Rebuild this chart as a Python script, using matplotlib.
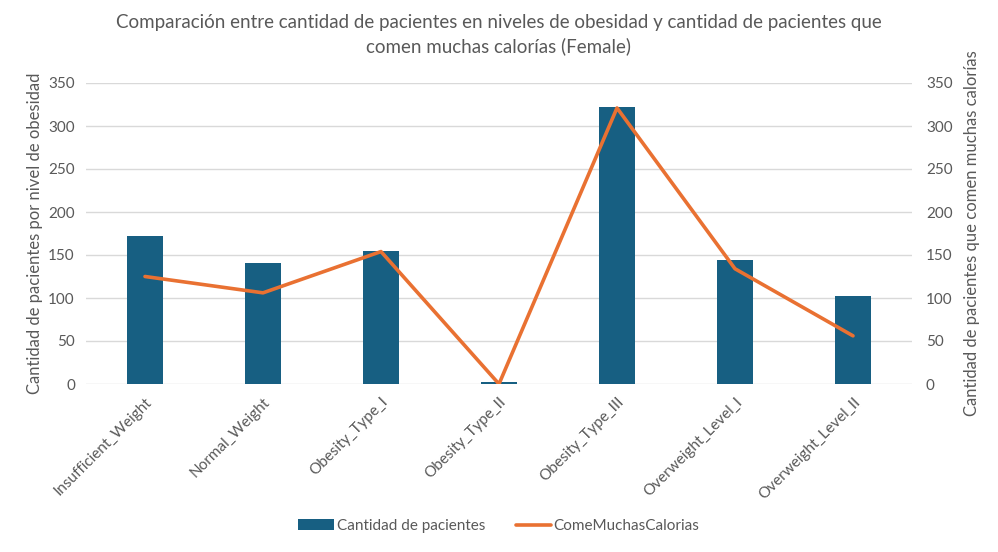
import matplotlib
matplotlib.use("Agg")
import matplotlib.pyplot as plt
from matplotlib.ticker import MultipleLocator

plt.rcParams['font.family'] = ['Lato', 'DejaVu Sans']

# data
categorias = ["Insufficient_Weight", "Normal_Weight", "Obesity_Type_I", "Obesity_Type_II",
              "Obesity_Type_III", "Overweight_Level_I", "Overweight_Level_II"]
pacientes = [172, 141, 155, 2, 322, 144, 102]
muchas_calorias = [125, 106, 154, 0, 321, 134, 56]

gris = "#595959"
azul = "#175F82"
naranja = "#E97132"

fig = plt.figure(figsize=(9.98, 5.52), dpi=100)
ax1 = fig.add_axes([86/998, 1-384/552, 826/998, 301/552])
ax2 = ax1.twinx()

x = list(range(len(categorias)))
b = ax1.bar(x, pacientes, width=0.31, color=azul, label="Cantidad de pacientes", zorder=2)
l, = ax2.plot(x, muchas_calorias, '-', color=naranja, linewidth=2.6, label="ComeMuchasCalorias",
              solid_capstyle='round', zorder=3)

for ax in (ax1, ax2):
    ax.set_ylim(0, 350)
    ax.yaxis.set_major_locator(MultipleLocator(50))
    for s in ax.spines.values():
        s.set_visible(False)
    ax.tick_params(axis='y', length=0, labelsize=11, labelcolor=gris, pad=8)
ax1.set_xlim(-0.5, 6.5)
ax1.grid(axis='y', color='#D9D9D9', linewidth=1, zorder=0)
ax1.set_axisbelow(True)
ax1.set_xticks(x)
ax1.set_xticklabels(categorias, rotation=45, ha='right', rotation_mode='anchor',
                    fontsize=11, color=gris)
ax1.tick_params(axis='x', length=0, pad=8)
ax2.tick_params(axis='y', pad=10)

ax1.set_ylabel("Cantidad de pacientes por nivel de obesidad", fontsize=12, color=gris, labelpad=4)
ax2.set_ylabel("Cantidad de pacientes que comen muchas calorías", fontsize=12, color=gris, labelpad=8)

fig.suptitle("Comparación entre cantidad de pacientes en niveles de obesidad y cantidad de pacientes que\ncomen muchas calorías (Female)",
             fontsize=13.5, color=gris, y=0.975, linespacing=1.4)

fig.legend([b, l], ["Cantidad de pacientes", "ComeMuchasCalorias"], loc='center',
           bbox_to_anchor=(0.5, 1-526/552), ncol=2, frameon=False, fontsize=11,
           labelcolor=gris, handlelength=2.3, columnspacing=2.0, handletextpad=0.2)

plt.savefig("out.png", dpi=100)
plt.close()
